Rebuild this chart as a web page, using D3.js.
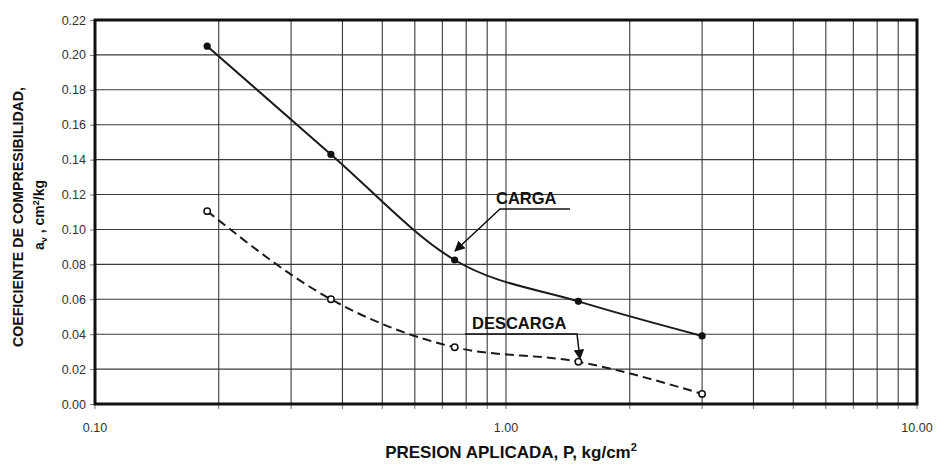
<!DOCTYPE html>
<html>
<head>
  <meta charset="utf-8">
  <title>Coeficiente de compresibilidad</title>
  <script src="https://cdnjs.cloudflare.com/ajax/libs/d3/7.8.5/d3.min.js"></script>
  <style>
    body { margin: 0; background: #fff; }
    text { font-family: "Liberation Sans", Arial, sans-serif; }
  </style>
</head>
<body>
  <div id="viz"></div>
  <script>
    // data
    var presion = [0.1875, 0.375, 0.75, 1.5, 3.0];
    var carga = [0.205, 0.143, 0.0825, 0.0588, 0.039];
    var descarga = [0.1105, 0.060, 0.0325, 0.0242, 0.0058];
    var xTicks = [0.1, 1, 10];
    var yTicks = [0, 0.02, 0.04, 0.06, 0.08, 0.10, 0.12, 0.14, 0.16, 0.18, 0.20, 0.22];

    var width = 948, height = 466,
        margin = {left: 95, right: 31, top: 20, bottom: 62};

    var svg = d3.select("#viz").append("svg")
        .attr("width", width)
        .attr("height", height);

    var x = d3.scaleLog().domain([0.1, 10]).range([margin.left, width - margin.right]);
    var y = d3.scaleLinear().domain([0, 0.22]).range([height - margin.bottom, margin.top]);

    // minor log grid values 0.2..0.9, 2..9
    var gridX = [];
    [0.1, 1].forEach(function (d) {
      for (var k = 2; k <= 9; k++) gridX.push(d * k);
    });
    gridX.push(1);

    var grid = svg.append("g");
    grid.selectAll("line.v").data(gridX).enter().append("line")
        .attr("x1", function (d) { return x(d); })
        .attr("x2", function (d) { return x(d); })
        .attr("y1", y(0)).attr("y2", y(0.22))
        .attr("stroke", "#3a3a3a").attr("stroke-width", 1.1);
    grid.selectAll("line.h").data(yTicks).enter().append("line")
        .attr("x1", x(0.1)).attr("x2", x(10))
        .attr("y1", function (d) { return y(d); })
        .attr("y2", function (d) { return y(d); })
        .attr("stroke", "#3a3a3a").attr("stroke-width", 1.1);

    // small tick marks below the x axis
    svg.selectAll("line.xt").data(gridX.concat([0.1, 10])).enter().append("line")
        .attr("x1", function (d) { return x(d); })
        .attr("x2", function (d) { return x(d); })
        .attr("y1", y(0)).attr("y2", y(0) + 5)
        .attr("stroke", "#777").attr("stroke-width", 1);

    // y axis
    var yAxis = d3.axisLeft(y).tickValues(yTicks).tickFormat(d3.format(".2f")).tickSize(5).tickPadding(4);
    var ga = svg.append("g").attr("transform", "translate(" + margin.left + ",0)").call(yAxis);
    ga.select(".domain").remove();
    ga.selectAll("line").attr("stroke", "#777");
    ga.selectAll("text").style("font-size", "12.5px").attr("fill", "#333");

    // x axis labels
    svg.selectAll("text.xl").data(xTicks).enter().append("text")
        .attr("x", function (d) { return x(d); })
        .attr("y", y(0) + 28)
        .attr("text-anchor", "middle")
        .style("font-size", "12.5px").attr("fill", "#333")
        .text(function (d) { return d3.format(".2f")(d); });

    // frame
    svg.append("rect")
        .attr("x", x(0.1)).attr("y", y(0.22))
        .attr("width", x(10) - x(0.1)).attr("height", y(0) - y(0.22))
        .attr("fill", "none").attr("stroke", "#111").attr("stroke-width", 3);

    var line = d3.line()
        .x(function (d) { return x(d[0]); })
        .y(function (d) { return y(d[1]); })
        .curve(d3.curveMonotoneX);

    var cargaPts = presion.map(function (p, i) { return [p, carga[i]]; });
    var descPts = presion.map(function (p, i) { return [p, descarga[i]]; });

    svg.append("path").datum(cargaPts).attr("d", line)
        .attr("fill", "none").attr("stroke", "#1a1a1a").attr("stroke-width", 2);
    svg.append("path").datum(descPts).attr("d", line)
        .attr("fill", "none").attr("stroke", "#1a1a1a").attr("stroke-width", 2)
        .attr("stroke-dasharray", "9,5");

    svg.selectAll("circle.c").data(cargaPts).enter().append("circle")
        .attr("cx", function (d) { return x(d[0]); })
        .attr("cy", function (d) { return y(d[1]); })
        .attr("r", 3.6).attr("fill", "#111");
    svg.selectAll("circle.d").data(descPts).enter().append("circle")
        .attr("cx", function (d) { return x(d[0]); })
        .attr("cy", function (d) { return y(d[1]); })
        .attr("r", 3.2).attr("fill", "#fff").attr("stroke", "#111").attr("stroke-width", 1.5);

    // arrow marker
    svg.append("defs").append("marker")
        .attr("id", "arr").attr("viewBox", "0 0 10 10")
        .attr("refX", 9).attr("refY", 5)
        .attr("markerWidth", 7).attr("markerHeight", 7)
        .attr("orient", "auto-start-reverse")
        .append("path").attr("d", "M0,0 L10,5 L0,10 z").attr("fill", "#111");

    // CARGA annotation
    svg.append("text").attr("x", 496).attr("y", 204)
        .style("font-size", "16.5px").style("font-weight", "bold").attr("fill", "#111")
        .text("CARGA");
    svg.append("path").attr("d", "M570,209 L500,209 L455,251")
        .attr("fill", "none").attr("stroke", "#111").attr("stroke-width", 1.5)
        .attr("marker-end", "url(#arr)");

    // DESCARGA annotation
    svg.append("text").attr("x", 472).attr("y", 329)
        .style("font-size", "16.5px").style("font-weight", "bold").attr("fill", "#111")
        .text("DESCARGA");
    svg.append("path").attr("d", "M465,334 L577,334 L580,359")
        .attr("fill", "none").attr("stroke", "#111").attr("stroke-width", 1.5)
        .attr("marker-end", "url(#arr)");

    // axis titles
    var xt = svg.append("text").attr("x", 511).attr("y", 458)
        .attr("text-anchor", "middle")
        .style("font-size", "17px").style("font-weight", "bold").attr("fill", "#111");
    xt.append("tspan").text("PRESION APLICADA, P, kg/cm");
    xt.append("tspan").attr("dy", -7).style("font-size", "11px").text("2");

    svg.append("text")
        .attr("transform", "translate(23,217) rotate(-90)")
        .attr("text-anchor", "middle")
        .style("font-size", "14.2px").style("font-weight", "bold").attr("fill", "#111")
        .text("COEFICIENTE DE COMPRESIBILIDAD,");
    var yt2 = svg.append("text")
        .attr("transform", "translate(44,215) rotate(-90)")
        .attr("text-anchor", "middle")
        .style("font-size", "14px").style("font-weight", "bold").attr("fill", "#111");
    yt2.append("tspan").text("a");
    yt2.append("tspan").attr("dy", 3).style("font-size", "9px").text("v");
    yt2.append("tspan").attr("dy", -3).text(" , cm");
    yt2.append("tspan").attr("dy", -5).style("font-size", "9px").text("2");
    yt2.append("tspan").attr("dy", 5).text("/kg");
  </script>
</body>
</html>
